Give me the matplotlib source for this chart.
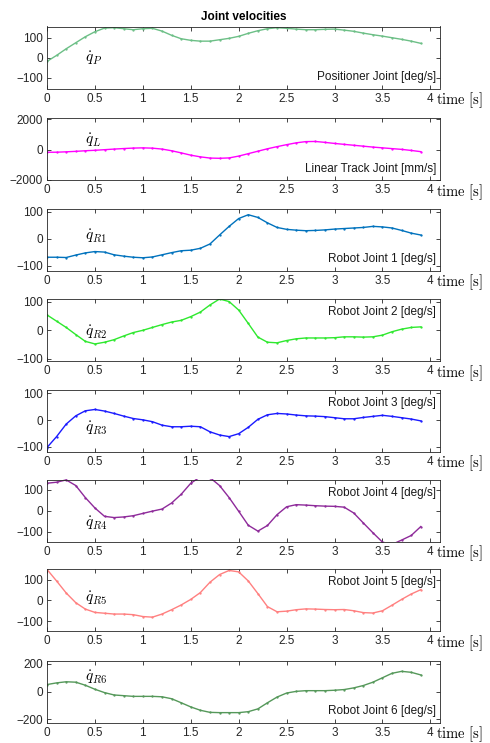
import numpy as np
import matplotlib
matplotlib.use("Agg")
import matplotlib.pyplot as plt

plt.rcParams["font.family"] = ["Liberation Sans", "DejaVu Sans"]
plt.rcParams["mathtext.fontset"] = "cm"

# ===============================
# Data (sampled every 0.1 s)
# ===============================
t = np.arange(40) / 10.0

q_P = [-18, 12, 45, 75, 105, 130, 148, 150, 145, 140,
       145, 147, 133, 112, 95, 87, 83, 83, 90, 97,
       107, 122, 135, 145, 150, 147, 143, 140, 140, 142,
       143, 138, 132, 123, 115, 108, 100, 92, 83, 72]
q_L = [-180, -175, -150, -120, -80, -50, -10, 30, 65, 95,
       110, 90, 30, -80, -220, -370, -480, -560, -575, -550,
       -430, -270, -110, 50, 190, 320, 440, 520, 530, 470,
       400, 340, 280, 220, 160, 110, 60, 10, -60, -140]
q_R1 = [-68, -68, -69, -60, -52, -47, -49, -59, -64, -68,
        -70, -67, -59, -51, -44, -42, -35, -19, 14, 46,
        75, 89, 79, 59, 42, 35, 32, 30, 31, 33,
        36, 38, 40, 42, 46, 44, 40, 31, 21, 14]
q_R2 = [54, 32, 10, -15, -39, -48, -42, -33, -20, -8,
        0, 10, 20, 29, 35, 48, 64, 89, 110, 101,
        71, 24, -24, -42, -44, -36, -30, -27, -27, -27,
        -26, -23, -23, -24, -23, -17, -5, 4, 10, 12]
q_R3 = [-103, -62, -15, 16, 35, 40, 34, 25, 15, 6,
        1, -6, -19, -25, -25, -23, -25, -44, -56, -62,
        -51, -27, 3, 20, 25, 23, 19, 16, 15, 13,
        9, 5, 5, 10, 14, 18, 14, 9, 4, -3]
q_R4 = [132, 137, 148, 121, 63, 13, -27, -33, -30, -24,
        -13, -2, 8, 37, 79, 132, 163, 159, 121, 63,
        -3, -70, -98, -71, -19, 19, 29, 27, 24, 22,
        21, 17, -11, -59, -106, -151, -162, -141, -119, -76]
q_R5 = [150, 94, 36, -11, -42, -58, -62, -66, -66, -69,
        -78, -81, -66, -45, -22, 5, 38, 88, 125, 145,
        138, 94, 33, -30, -55, -52, -45, -41, -42, -44,
        -45, -44, -50, -59, -61, -50, -23, 5, 31, 52]
q_R6 = [51, 63, 71, 68, 46, 17, -7, -24, -29, -34,
        -34, -34, -37, -51, -80, -110, -134, -149, -151, -151,
        -151, -144, -124, -80, -39, -10, 2, 7, 7, 7,
        10, 15, 27, 44, 68, 100, 132, 146, 139, 120]

series = [q_P, q_L, q_R1, q_R2, q_R3, q_R4, q_R5, q_R6]
symbols = [r"$\dot{q}_P$", r"$\dot{q}_L$", r"$\dot{q}_{R1}$", r"$\dot{q}_{R2}$",
           r"$\dot{q}_{R3}$", r"$\dot{q}_{R4}$", r"$\dot{q}_{R5}$", r"$\dot{q}_{R6}$"]
names = ["Positioner Joint [deg/s]", "Linear Track Joint [mm/s]",
         "Robot Joint 1 [deg/s]", "Robot Joint 2 [deg/s]",
         "Robot Joint 3 [deg/s]", "Robot Joint 4 [deg/s]",
         "Robot Joint 5 [deg/s]", "Robot Joint 6 [deg/s]"]
yticks = [[-100, 0, 100], [-2000, 0, 2000], [-100, 0, 100], [-100, 0, 100],
          [-100, 0, 100], [-100, 0, 100], [-100, 0, 100], [-200, 0, 200]]

# ===============================
# Style / layout
# ===============================
colors = ["#6cbf86", "#ff00ff", "#0072bd", "#2ee82e",
          "#1a1aff", "#8e2a9a", "#ff8080", "#55985a"]
ylims = [(-153, 156), (-2000, 2070), (-117, 112), (-108, 110),
         (-118, 115), (-148, 150), (-148, 152), (-222, 224)]
tops = [26.5, 118, 208.5, 299, 389.5, 479.5, 569, 660.5]
sym_y = [0, 620, 10, -6, -30, -62, 9, 102]
name_top = [False, False, False, True, True, True, True, False]

W, H = 490, 743
fig = plt.figure(figsize=(W / 100, H / 100), dpi=100)
axc = "#262626"

for i in range(8):
    ax = fig.add_axes([47 / W, 1 - (tops[i] + 62) / H, 393 / W, 62 / H])
    ax.plot(t, series[i], "-", color=colors[i], lw=1.0,
            marker=".", ms=1.3)
    ax.set_xlim(0, 4.1)
    ax.set_ylim(*ylims[i])
    ax.set_xticks(np.arange(0, 4.01, 0.5))
    ax.set_xticklabels(["0", "0.5", "1", "1.5", "2", "2.5", "3", "3.5", "4"])
    ax.set_yticks(yticks[i])
    ax.tick_params(direction="in", length=3, width=0.6, top=True, right=True,
                   labelsize=8.5, colors=axc, pad=3)
    for sp in ax.spines.values():
        sp.set_color(axc)
        sp.set_linewidth(0.6)

    ax.text(0.4, sym_y[i], symbols[i], fontsize=11, ha="left", va="center")
    ax.text(0.99, 0.79 if name_top[i] else 0.18, names[i], fontsize=8.5,
            ha="right", va="center", color="#1a1a1a", transform=ax.transAxes)
    ax.annotate(r"$\mathrm{time}\ [\mathrm{s}]$", xy=(4.0, 0),
                xycoords=("data", "axes fraction"), xytext=(4, -8.5),
                textcoords="offset points", ha="left", va="center",
                fontsize=10.5)

    if i == 0:
        ax.set_title("Joint velocities", fontsize=8.5, fontweight="bold", pad=5)

fig.savefig("out.png", dpi=100)
